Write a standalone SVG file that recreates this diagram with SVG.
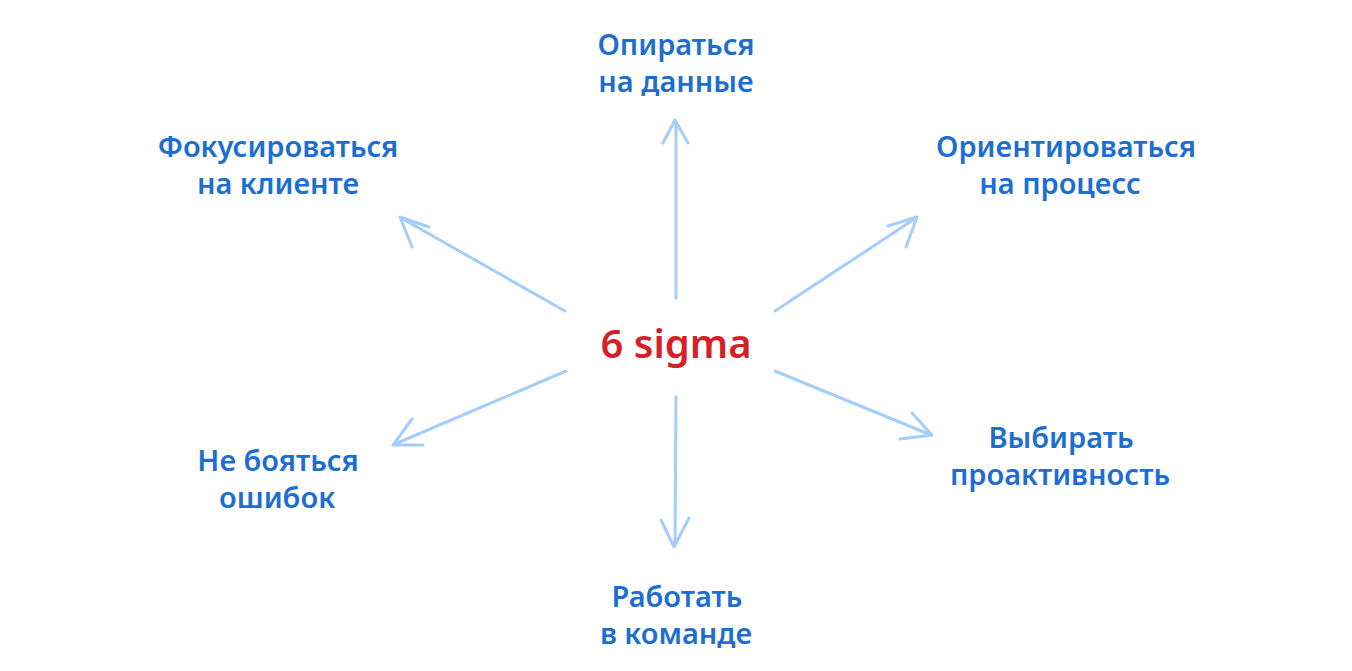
<svg xmlns="http://www.w3.org/2000/svg" width="1352" height="671" viewBox="0 0 1352 671">
<style>
.lbl{font-family:"Noto Sans","DejaVu Sans",sans-serif;font-size:29px;font-weight:600;fill:#1c6ed2;text-anchor:middle}
.ctr{font-family:"Noto Sans","DejaVu Sans",sans-serif;font-size:40px;font-weight:600;fill:#d71f27;text-anchor:middle}
.arr{fill:none;stroke:#a3cdfa;stroke-width:3;stroke-linecap:round;stroke-linejoin:round}
</style>
<rect width="1352" height="671" fill="#ffffff"/>
<g id="connectors">
<path class="arr" d="M676 298 L676 121 M663 143 L675 120 L688 143"/>
<path class="arr" d="M565 311 L401 218 M412 247 L400 217 L429 227"/>
<path class="arr" d="M775 311 L916 218 M888 226 L917 217 L906 247"/>
<path class="arr" d="M566 371 L395 444 M412 419 L393 445 L423 445"/>
<path class="arr" d="M775 371 L931 435 M912 413 L932 435 L900 439"/>
<path class="arr" d="M676 397 L675 546 M661 520 L674 547 L689 518"/>
</g>
<g id="center"><text class="ctr" x="676" y="358">6 sigma</text></g>
<g id="node-data"><text class="lbl" x="676" y="55">Опираться</text><text class="lbl" x="676" y="92">на данные</text></g>
<g id="node-client"><text class="lbl" x="278" y="157">Фокусироваться</text><text class="lbl" x="278" y="194">на клиенте</text></g>
<g id="node-process"><text class="lbl" x="1066" y="157">Ориентироваться</text><text class="lbl" x="1060" y="194">на процесс</text></g>
<g id="node-errors"><text class="lbl" x="278" y="471">Не бояться</text><text class="lbl" x="277" y="508">ошибок</text></g>
<g id="node-proactive"><text class="lbl" x="1061" y="448">Выбирать</text><text class="lbl" x="1060" y="485">проактивность</text></g>
<g id="node-team"><text class="lbl" x="677" y="607">Работать</text><text class="lbl" x="676" y="644">в команде</text></g>
</svg>
